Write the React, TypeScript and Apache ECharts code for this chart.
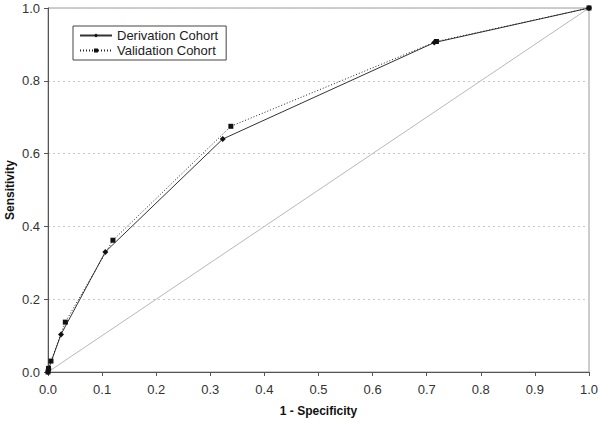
import React, { useEffect, useRef } from "react";
import * as echarts from "echarts";

const xTicks = [0, 0.1, 0.2, 0.3, 0.4, 0.5, 0.6, 0.7, 0.8, 0.9, 1.0];
const derivationX = [0, 0.001, 0.024, 0.106, 0.323, 0.714, 1.0];
const derivationY = [0, 0.008, 0.103, 0.330, 0.640, 0.905, 1.0];
const validationX = [0, 0.001, 0.0055, 0.032, 0.120, 0.338, 0.718, 1.0];
const validationY = [0, 0.010, 0.030, 0.137, 0.362, 0.675, 0.908, 1.0];
const diagonalX = [0, 1];
const diagonalY = [0, 1];

const FONT = "Liberation Sans, Arial, sans-serif";

export default function App() {
  const ref = useRef<HTMLDivElement>(null);
  useEffect(() => {
    if (!ref.current) return;
    const chart = echarts.init(ref.current, null, { renderer: "svg" });
    const zip = (xs: number[], ys: number[]) => xs.map((x, i) => [x, ys[i]]);
    chart.setOption({
      animation: false,
      backgroundColor: "#ffffff",
      grid: {
        left: 48,
        right: 11,
        top: 8,
        bottom: 51,
        containLabel: false,
        outerBoundsMode: "none",
        show: true,
        borderColor: "#9a9a9a",
        borderWidth: 1,
        backgroundColor: "transparent",
      },
      legend: {
        show: true,
        left: 73,
        top: 26,
        orient: "vertical",
        data: ["Derivation Cohort", "Validation Cohort"],
        backgroundColor: "#ffffff",
        borderColor: "#444",
        borderWidth: 1,
        borderRadius: 0,
        padding: [3, 8, 3, 6],
        itemGap: 2,
        itemWidth: 32,
        itemHeight: 5,
        textStyle: { fontFamily: FONT, fontSize: 13, color: "#222" },
      },
      xAxis: {
        type: "value",
        min: 0,
        max: 1,
        interval: 0.1,
        name: "1 - Specificity",
        nameLocation: "middle",
        nameGap: 33,
        nameMoveOverlap: false,
        nameTextStyle: { fontFamily: FONT, fontSize: 12, fontWeight: "bold", color: "#111" },
        axisLine: { show: true, lineStyle: { color: "#555", width: 1 } },
        axisTick: { show: true, length: 4, lineStyle: { color: "#555" } },
        axisLabel: {
          fontFamily: FONT,
          fontSize: 13,
          color: "#333",
          margin: 11,
          formatter: (v: number) => v.toFixed(1),
        },
        splitLine: { show: false },
      },
      yAxis: {
        type: "value",
        min: 0,
        max: 1,
        interval: 0.2,
        name: "Sensitivity",
        nameLocation: "middle",
        nameGap: 32,
        nameMoveOverlap: false,
        nameTextStyle: { fontFamily: FONT, fontSize: 12, fontWeight: "bold", color: "#111" },
        axisLine: { show: true, lineStyle: { color: "#555", width: 1 } },
        axisTick: { show: true, length: 4, lineStyle: { color: "#555" } },
        axisLabel: {
          fontFamily: FONT,
          fontSize: 13,
          color: "#333",
          margin: 8,
          formatter: (v: number) => v.toFixed(1),
        },
        splitLine: { show: true, lineStyle: { color: "#c8c8c8", type: [2, 3], width: 1 } },
      },
      series: [
        {
          name: "Diagonal",
          type: "line",
          data: zip(diagonalX, diagonalY),
          showSymbol: false,
          symbol: "none",
          lineStyle: { color: "#b8b8b8", width: 1 },
          silent: true,
          z: 1,
        },
        {
          name: "Derivation Cohort",
          type: "line",
          data: zip(derivationX, derivationY),
          symbol: "diamond",
          symbolSize: 6,
          itemStyle: { color: "#111" },
          lineStyle: { color: "#333", width: 1 },
          z: 3,
        },
        {
          name: "Validation Cohort",
          type: "line",
          data: zip(validationX, validationY),
          symbol: "rect",
          symbolSize: 5,
          itemStyle: { color: "#111" },
          lineStyle: { color: "#222", width: 1, type: [1, 2] },
          z: 3,
        },
      ],
    });
    return () => chart.dispose();
  }, []);
  return <div ref={ref} style={{ width: 600, height: 423, position: "absolute", left: 0, top: 0 }} />;
}
